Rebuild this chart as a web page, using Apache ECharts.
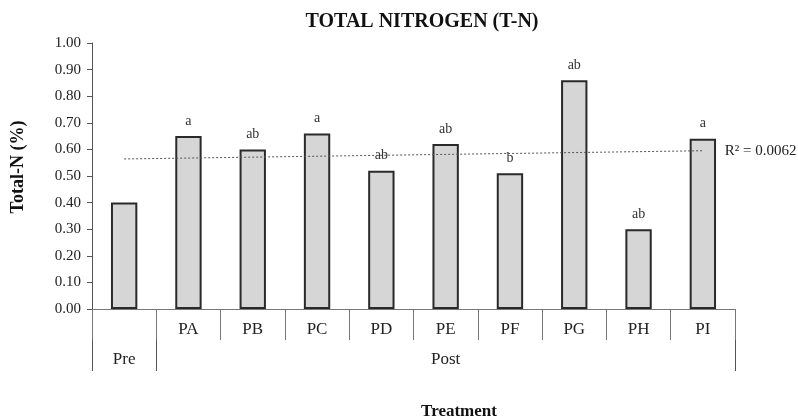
<!DOCTYPE html>
<html><head><meta charset="utf-8">
<script src="https://cdn.jsdelivr.net/npm/echarts@6/dist/echarts.min.js"></script>
<style>html,body{margin:0;padding:0;background:#fff}#c{width:798px;height:419px}</style>
</head><body><div id="c"></div>
<script>
var categories = ['Pre','PA','PB','PC','PD','PE','PF','PG','PH','PI'];
var tickLabels = ['', 'PA','PB','PC','PD','PE','PF','PG','PH','PI'];
var values = [0.40,0.65,0.60,0.66,0.52,0.62,0.51,0.86,0.30,0.64];
var letters = ['', 'a','ab','a','ab','ab','b','ab','ab','a'];
var groupLabels = ['Pre','Post'];
var groupBounds = [0,1,10];
var trendStart = 0.564, trendEnd = 0.595;
var r2Text = 'R\u00B2 = 0.0062';

var font = 'Liberation Serif, Times New Roman, serif';
var chart = echarts.init(document.getElementById('c'));
chart.setOption({
  animation:false,
  backgroundColor:'#fff',
  title:[
    {text:'TOTAL NITROGEN (T-N)', left:417, top:7, textAlign:'center',
     textStyle:{fontFamily:font, fontSize:20, fontWeight:'bold', color:'#111'}},
    {text:'Treatment', left:454, top:398, textAlign:'center',
     textStyle:{fontFamily:font, fontSize:17, fontWeight:'bold', color:'#111'}}
  ],
  graphic:[
    {type:'text', x:18, y:167, rotation:Math.PI/2,
     style:{text:'Total-N (%)', fontFamily:font, fontSize:18, fontWeight:'bold', fill:'#111',
       align:'center', verticalAlign:'middle'}}
  ],
  grid:{left:92, right:63, top:43, bottom:110, containLabel:false},
  xAxis:[
    {type:'category', data:categories, position:'bottom',
     axisLine:{lineStyle:{color:'#777', width:1}},
     axisTick:{show:true, interval:0, length:31, lineStyle:{color:'#777'}},
     axisLabel:{interval:0, margin:12, fontFamily:font, fontSize:17, color:'#222',
       formatter:function(v,i){return tickLabels[i];}}},
    {type:'value', min:0, max:10, position:'bottom', offset:31,
     axisLine:{show:false}, splitLine:{show:false},
     axisTick:{show:true, length:31, customValues:groupBounds, lineStyle:{color:'#555'}},
     axisLabel:{margin:11, fontFamily:font, fontSize:17, color:'#222',
       customValues:[0.5,5.5],
       formatter:function(v){return v<1?groupLabels[0]:groupLabels[1];}}}
  ],
  yAxis:{type:'value', min:0, max:1, interval:0.1,
    axisLine:{show:true, lineStyle:{color:'#555'}},
    axisTick:{show:true, length:5, lineStyle:{color:'#555'}},
    splitLine:{show:false},
    axisLabel:{margin:11, fontFamily:font, fontSize:15, color:'#222',
      formatter:function(v){return v.toFixed(2);}}},
  series:[
    {type:'bar', xAxisIndex:0, data:values, barWidth:'41%',
     itemStyle:{color:'#d6d6d6', borderColor:'#2a2a2a', borderWidth:2},
     label:{show:true, position:'top', distance:8, fontFamily:font, fontSize:14, color:'#333',
       formatter:function(p){return letters[p.dataIndex];}}},
    {type:'line', xAxisIndex:0, data:[[0,trendStart],[9,trendEnd]], symbol:'none',
     lineStyle:{type:[2,2], color:'#555', width:1}, z:5,
     endLabel:{show:true, formatter:r2Text, distance:22, fontFamily:font, fontSize:15, color:'#222'}}
  ]
});
</script></body></html>
